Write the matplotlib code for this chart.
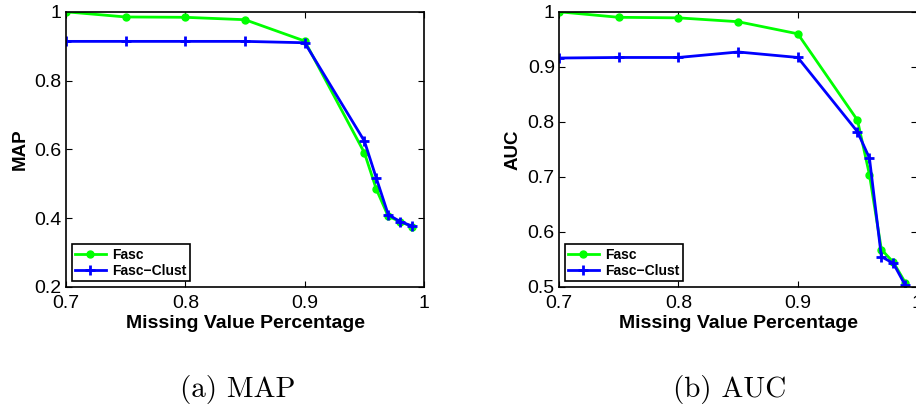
import matplotlib.pyplot as plt

# missing value percentage
x = [0.7, 0.75, 0.8, 0.85, 0.9, 0.95, 0.96, 0.97, 0.98, 0.99]

# (a) MAP
map_fasc = [1.0, 0.985, 0.984, 0.977, 0.915, 0.59, 0.484, 0.405, 0.39, 0.375]
map_clust = [0.914, 0.914, 0.914, 0.914, 0.91, 0.624, 0.516, 0.41, 0.39, 0.377]

# (b) AUC
auc_fasc = [1.0, 0.99, 0.989, 0.982, 0.96, 0.803, 0.704, 0.568, 0.545, 0.508]
auc_clust = [0.916, 0.917, 0.917, 0.927, 0.917, 0.782, 0.734, 0.555, 0.543, 0.503]

plt.rcParams['font.family'] = ['Liberation Sans', 'DejaVu Sans']

fig = plt.figure(figsize=(9.16, 4.07), dpi=100)

panels = [
    ([0.072, 0.295, 0.391, 0.676], map_fasc, map_clust, 'MAP', (0.2, 1.0), [0.2, 0.4, 0.6, 0.8, 1.0], '(a) MAP', 0.259),
    ([0.6103, 0.295, 0.391, 0.676], auc_fasc, auc_clust, 'AUC', (0.5, 1.0), [0.5, 0.6, 0.7, 0.8, 0.9, 1.0], '(b) AUC', 0.796),
]

for rect, yf, yc, lab, ylim, yt, cap, cx in panels:
    ax = fig.add_axes(rect)
    ax.plot(x, yf, '-o', color=(0, 1, 0), lw=2, ms=5, label='Fasc')
    ax.plot(x, yc, '-+', color=(0, 0, 1), lw=2, ms=7, mew=2, label='Fasc\u2212Clust')
    ax.set_xlim(0.7, 1.0)
    ax.set_ylim(*ylim)
    ax.set_xticks([0.7, 0.8, 0.9, 1.0])
    ax.set_xticklabels(['0.7', '0.8', '0.9', '1'])
    ax.set_yticks(yt)
    ax.set_yticklabels([('%g' % v) for v in yt])
    ax.tick_params(direction='in', top=True, right=True, labelsize=14, length=4)
    ax.tick_params(axis='x', pad=6)
    ax.tick_params(axis='y', pad=3)
    for s in ax.spines.values():
        s.set_linewidth(1.2)
    ax.set_xlabel('Missing Value Percentage', fontsize=14, fontweight='bold', labelpad=2)
    ax.set_ylabel(lab, fontsize=13.5, fontweight='bold', labelpad=4.5)
    leg = ax.legend(loc='lower left', fancybox=False, edgecolor='black', framealpha=1,
                    prop={'weight': 'bold', 'size': 10}, handlelength=2.2,
                    borderpad=0.25, labelspacing=0.15, borderaxespad=0.4, handletextpad=0.5)
    leg.get_frame().set_linewidth(1.2)
    fig.text(cx, 0.025, cap, ha='center', va='baseline', fontsize=21, family='cmr10')

plt.savefig('out.png', dpi=100)
